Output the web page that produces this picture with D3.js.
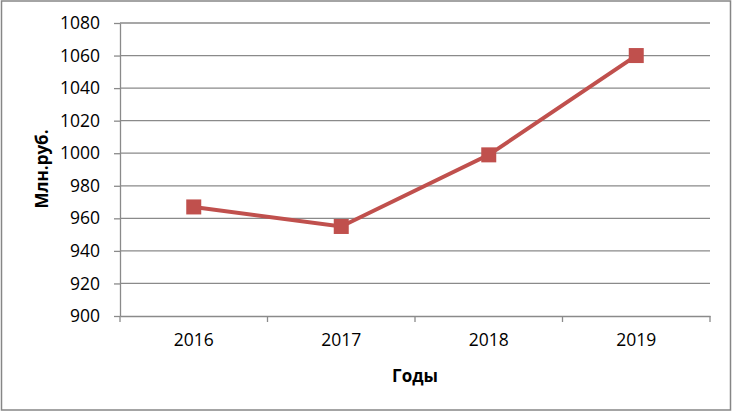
<!DOCTYPE html>
<html><head><meta charset="utf-8">
<script src="https://cdn.jsdelivr.net/npm/d3@7"></script>
<style>
html,body{margin:0;padding:0;background:#fff;}
svg{display:block;font-family:"Open Sans",sans-serif;}
</style></head>
<body>
<svg id="c" width="734" height="413"></svg>
<script>
const years = ["2016","2017","2018","2019"];
const values = [967, 955, 999, 1060];
const yTicks = [900,920,940,960,980,1000,1020,1040,1060,1080];
const yTitle = "Млн.руб.";
const xTitle = "Годы";

const svg = d3.select("#c");
const W = 734, H = 413;
const m = {left:120, right:24, top:23, bottom:97};

svg.append("rect").attr("x",1.5).attr("y",1).attr("width",729).attr("height",409)
  .attr("fill","#fff").attr("stroke","#868686").attr("stroke-width",1.5);

const x = d3.scaleBand().domain(years).range([m.left, W - m.right]);
const y = d3.scaleLinear().domain([900,1080]).range([H - m.bottom, m.top]);

const gridColor = "#8a8a8a";
svg.append("g").selectAll("line").data(yTicks.slice(1)).join("line")
  .attr("x1", m.left).attr("x2", W - m.right)
  .attr("y1", d=>y(d)).attr("y2", d=>y(d))
  .attr("stroke", gridColor).attr("stroke-width",1.3);

const ya = svg.append("g").attr("transform",`translate(${m.left},0)`)
  .call(d3.axisLeft(y).tickValues(yTicks).tickFormat(d3.format("d")).tickSize(6).tickPadding(14).tickSizeOuter(0));
ya.select(".domain").attr("stroke",gridColor).attr("stroke-width",1.3);
ya.selectAll(".tick line").attr("stroke",gridColor).attr("stroke-width",1.3);
ya.selectAll("text").attr("font-size",17.5).attr("fill","#000").attr("font-family","Open Sans");

const xa = svg.append("g").attr("transform",`translate(0,${y(900)})`)
  .call(d3.axisBottom(x).tickSize(0).tickPadding(18));
xa.select(".domain").attr("stroke",gridColor).attr("stroke-width",1.3);
xa.selectAll("text").attr("font-size",17.5).attr("fill","#000").attr("font-family","Open Sans");
const bounds = years.map(d=>x(d)).concat([x(years[years.length-1]) + x.bandwidth()]);
xa.selectAll(".bt").data(bounds).join("line").attr("class","bt")
  .attr("x1",d=>d).attr("x2",d=>d).attr("y1",0).attr("y2",6)
  .attr("stroke",gridColor).attr("stroke-width",1.3);

const cx = d => x(d) + x.bandwidth()/2;
svg.append("path").datum(years.map((d,i)=>[cx(d), y(values[i])]))
  .attr("d", d3.line()).attr("fill","none").attr("stroke","#c0504d").attr("stroke-width",4);
svg.append("g").selectAll("rect").data(years).join("rect")
  .attr("x", d=>cx(d)-7.5).attr("y",(d,i)=>y(values[i])-7.5)
  .attr("width",15).attr("height",15).attr("fill","#c0504d");

svg.append("text").attr("x", (m.left + W - m.right)/2).attr("y", 382)
  .attr("text-anchor","middle").attr("font-size",17).attr("font-weight","bold")
  .attr("font-family","Open Sans").text(xTitle);
svg.append("text").attr("transform","translate(48,169) rotate(-90)")
  .attr("text-anchor","middle").attr("font-size",17).attr("font-weight","bold")
  .attr("font-family","Open Sans").text(yTitle);
</script>
</body></html>
